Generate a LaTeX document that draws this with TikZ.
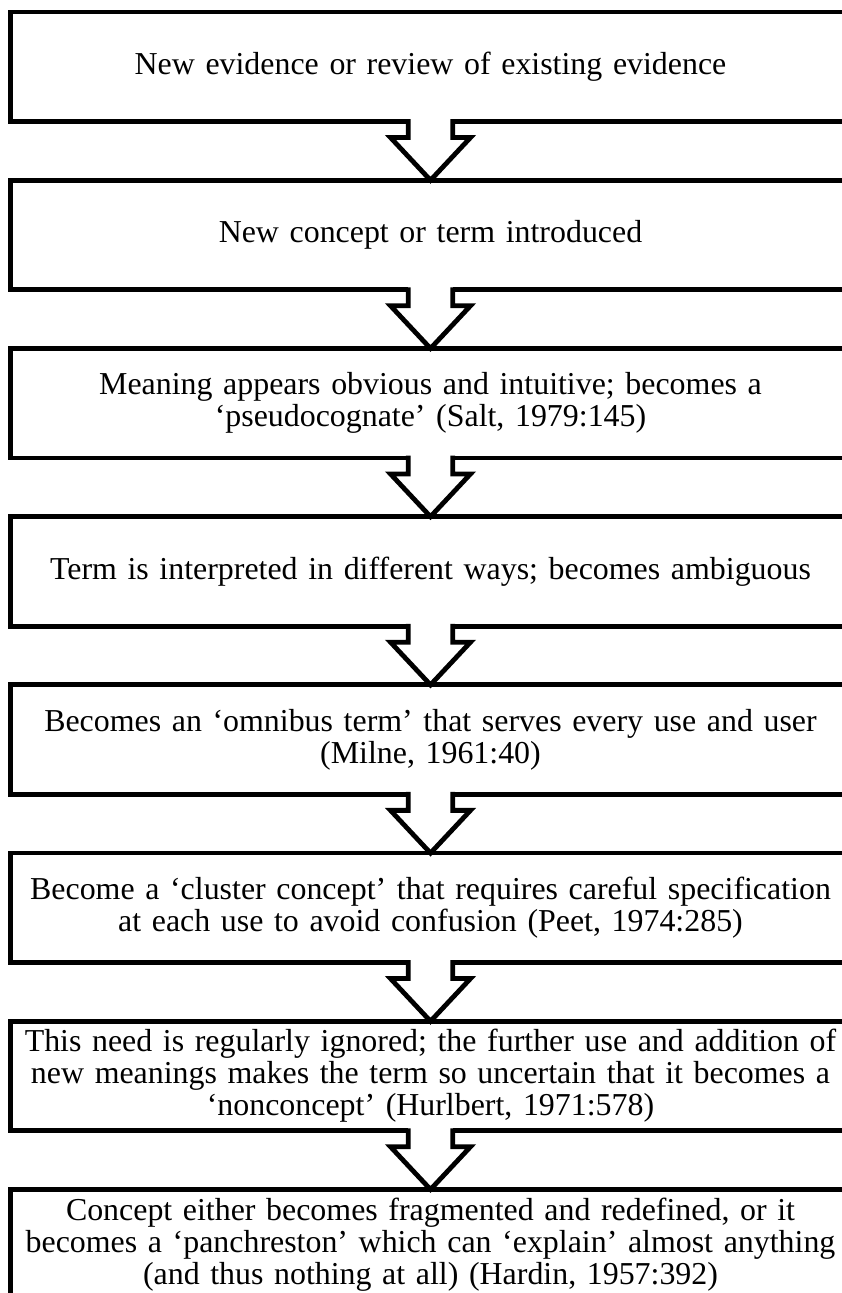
\documentclass[tikz,border=0pt]{standalone}
\usepackage{fontspec}
\setmainfont{Liberation Serif}
\usetikzlibrary{positioning}

\begin{document}
\begin{tikzpicture}[
		node distance=58.7pt,
		stage/.style={rectangle,draw,line width=4.8pt,minimum width=839.6pt,minimum height=109.5pt,
				text width=830pt,align=center,inner sep=0pt,outer sep=0pt,
				font=\fontsize{31.9}{32}\selectfont},
		flow/.style={line width=4.8pt,line join=miter}
	]
	\useasboundingbox (0,0) rectangle (841pt,-1293pt);
	\node[stage] (b1) at (430.5pt,-66.8pt) {New evidence or review of existing evidence};
	\node[stage,below=of b1] (b2) {New concept or term introduced};
	\node[stage,below=of b2] (b3) {Meaning appears obvious and intuitive; becomes a\\
		‘pseudocognate’ (Salt, 1979:145)};
	\node[stage,below=of b3] (b4) {Term is interpreted in different ways; becomes ambiguous};
	\node[stage,below=of b4] (b5) {Becomes an ‘omnibus term’ that serves every use and user\\
		(Milne, 1961:40)};
	\node[stage,below=of b5] (b6) {Become a ‘cluster concept’ that requires careful specification\\
		at each use to avoid confusion (Peet, 1974:285)};
	\node[stage,below=of b6] (b7) {This need is regularly ignored; the further use and addition of\\
		new meanings makes the term so uncertain that it becomes a\\
		‘nonconcept’ (Hurlbert, 1971:578)};
	\node[stage,below=of b7] (b8) {Concept either becomes fragmented and redefined, or it\\
		becomes a ‘panchreston’ which can ‘explain’ almost anything\\
		(and thus nothing at all) (Hardin, 1957:392)};
	\foreach \src/\dst in {b1/b2,b2/b3,b3/b4,b4/b5,b5/b6,b6/b7,b7/b8}{
		\fill[white] ([xshift=-22.3pt,yshift=3pt]\src.south) rectangle ([xshift=22.3pt,yshift=-3pt]\src.south);
		\draw[flow] ([xshift=-22.3pt,yshift=2.4pt]\src.south) -- ([xshift=-22.3pt,yshift=-16pt]\src.south)
			-- ([xshift=-40pt,yshift=-16pt]\src.south) -- (\dst.north)
			-- ([xshift=40pt,yshift=-16pt]\src.south) -- ([xshift=22.3pt,yshift=-16pt]\src.south)
			-- ([xshift=22.3pt,yshift=2.4pt]\src.south);
	}
\end{tikzpicture}
\end{document}
